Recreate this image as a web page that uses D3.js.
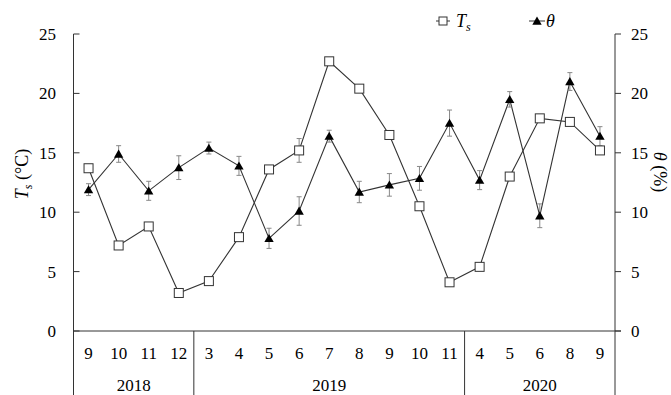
<!DOCTYPE html>
<style>
  body { margin: 0; background: #fff; }
  svg { font-family: "Liberation Serif", "Times New Roman", serif; }
</style>
<svg width="671" height="395"></svg>
<script src="https://cdn.jsdelivr.net/npm/d3@7"></script>
<script>

// data
var months = ["9","10","11","12","3","4","5","6","7","8","9","10","11","4","5","6","8","9"];
var years = ["2018","2019","2020"];
var yearCounts = [4, 9, 5];

var tsValues = [13.7,7.2,8.8,3.2,4.2,7.9,13.6,15.2,22.7,20.4,16.5,10.5,4.1,5.4,13.0,17.9,17.6,15.2];
var tsErr    = [0,0,0,0,0,0,0,1.0,0,0,0,0,0,0,0,0,0,0];
var thValues = [11.9,14.9,11.8,13.75,15.4,13.9,7.8,10.1,16.4,11.7,12.3,12.85,17.5,12.7,19.5,9.7,21.0,16.4];
var thErr    = [0.5,0.7,0.8,1.0,0.5,0.8,0.85,1.2,0.5,0.9,0.95,1.0,1.1,0.8,0.65,1.0,0.75,0.8];

var yTicks = [0,5,10,15,20,25];

var svg = d3.select("svg");
var xL = 73.5, xR = 615, yTop = 34, yBot = 331;

var x = d3.scaleBand()
    .domain(d3.range(months.length))
    .range([xL, xR]);

var yL = d3.scaleLinear().domain([0, 25]).range([yBot, yTop]);
var yR = d3.scaleLinear().domain([0, 25]).range([yBot, yTop]);

var cx = function(i) { return x(i) + x.bandwidth() / 2; };

// axes
var axisCol = "#333";

svg.append("line")
  .attr("x1", xL).attr("x2", xL)
  .attr("y1", yTop).attr("y2", 395)
  .attr("stroke", axisCol);
svg.append("line")
  .attr("x1", xR).attr("x2", xR)
  .attr("y1", yTop).attr("y2", 395)
  .attr("stroke", axisCol);
svg.append("line")
  .attr("x1", xL).attr("x2", xR + 6)
  .attr("y1", yBot).attr("y2", yBot)
  .attr("stroke", axisCol);

yTicks.forEach(function(t) {
  svg.append("line")
    .attr("x1", xL).attr("x2", xL + 6)
    .attr("y1", yL(t)).attr("y2", yL(t))
    .attr("stroke", axisCol);
  svg.append("text")
    .attr("x", 56).attr("y", yL(t))
    .attr("dy", "0.35em")
    .attr("text-anchor", "end")
    .style("font-size", "17px")
    .text(t);

  svg.append("line")
    .attr("x1", xR).attr("x2", xR + 6)
    .attr("y1", yR(t)).attr("y2", yR(t))
    .attr("stroke", axisCol);
  svg.append("text")
    .attr("x", 631).attr("y", yR(t))
    .attr("dy", "0.35em")
    .attr("text-anchor", "start")
    .style("font-size", "17px")
    .text(t);
});

// month labels
svg.selectAll(".month")
  .data(months)
  .enter().append("text")
    .attr("class", "month")
    .attr("x", function(d, i) { return cx(i); })
    .attr("y", 353)
    .attr("dy", "0.35em")
    .attr("text-anchor", "middle")
    .style("font-size", "17px")
    .text(function(d) { return d; });

// year groups + separators
var start = 0;
years.forEach(function(yr, k) {
  var n = yearCounts[k];
  var x0 = x(start), x1 = x(start + n - 1) + x.bandwidth();
  svg.append("text")
    .attr("x", (x0 + x1) / 2)
    .attr("y", 385)
    .attr("dy", "0.35em")
    .attr("text-anchor", "middle")
    .style("font-size", "17px")
    .text(yr);
  if (k < years.length - 1) {
    svg.append("line")
      .attr("x1", x1).attr("x2", x1)
      .attr("y1", yBot).attr("y2", 395)
      .attr("stroke", axisCol);
  }
  start += n;
});

// axis titles
var lt = svg.append("text")
  .attr("transform", "translate(28,174) rotate(-90)")
  .attr("text-anchor", "middle")
  .style("font-size", "18px");
lt.append("tspan").style("font-style", "italic").text("T");
lt.append("tspan").attr("dy", 4).style("font-size", "12px").style("font-style", "italic").text("s");
lt.append("tspan").attr("dy", -4).text(" (°C)");

var rt = svg.append("text")
  .attr("transform", "translate(654,172) rotate(90)")
  .attr("text-anchor", "middle")
  .style("font-size", "18px");
rt.append("tspan").style("font-style", "italic").text("θ");
rt.append("tspan").text(" (%)");

// lines
var lineCol = "#333";
var lineTs = d3.line().x(function(d, i) { return cx(i); }).y(function(d) { return yL(d); });
var lineTh = d3.line().x(function(d, i) { return cx(i); }).y(function(d) { return yR(d); });

svg.append("path").datum(tsValues)
  .attr("d", lineTs).attr("fill", "none").attr("stroke", lineCol).attr("stroke-width", 1.1);
svg.append("path").datum(thValues)
  .attr("d", lineTh).attr("fill", "none").attr("stroke", lineCol).attr("stroke-width", 1.1);

// error bars
function errBars(vals, errs, scale) {
  var g = svg.append("g").attr("stroke", "#888").attr("stroke-width", 1);
  vals.forEach(function(v, i) {
    if (!errs[i]) return;
    var xx = cx(i), y0 = scale(v - errs[i]), y1 = scale(v + errs[i]);
    g.append("line").attr("x1", xx).attr("x2", xx).attr("y1", y0).attr("y2", y1);
    g.append("line").attr("x1", xx - 2.5).attr("x2", xx + 2.5).attr("y1", y0).attr("y2", y0);
    g.append("line").attr("x1", xx - 2.5).attr("x2", xx + 2.5).attr("y1", y1).attr("y2", y1);
  });
}
errBars(tsValues, tsErr, yL);
errBars(thValues, thErr, yR);

// markers
var tri = d3.symbol().type(d3.symbolTriangle).size(38);

svg.selectAll(".sq")
  .data(tsValues)
  .enter().append("rect")
    .attr("class", "sq")
    .attr("x", function(d, i) { return cx(i) - 4.5; })
    .attr("y", function(d) { return yL(d) - 4.5; })
    .attr("width", 9).attr("height", 9)
    .attr("fill", "#fff").attr("stroke", "#333");

svg.selectAll(".tri")
  .data(thValues)
  .enter().append("path")
    .attr("class", "tri")
    .attr("d", tri)
    .attr("transform", function(d, i) { return "translate(" + cx(i) + "," + (yR(d) + 1) + ")"; })
    .attr("fill", "#000");

// legend
var lg = svg.append("g");
lg.append("line").attr("x1", 436).attr("x2", 450).attr("y1", 21).attr("y2", 21).attr("stroke", lineCol);
lg.append("rect").attr("x", 439).attr("y", 17).attr("width", 8).attr("height", 8)
  .attr("fill", "#fff").attr("stroke", "#333");
var lt2 = lg.append("text").attr("x", 456).attr("y", 27).style("font-size", "18px");
lt2.append("tspan").style("font-style", "italic").text("T");
lt2.append("tspan").attr("dy", 4).style("font-size", "12px").style("font-style", "italic").text("s");

lg.append("line").attr("x1", 529).attr("x2", 545).attr("y1", 21).attr("y2", 21).attr("stroke", lineCol);
lg.append("path").attr("d", tri).attr("transform", "translate(537,22)").attr("fill", "#000");
lg.append("text").attr("x", 546).attr("y", 27).style("font-size", "18px")
  .style("font-style", "italic").text("θ");

</script>
